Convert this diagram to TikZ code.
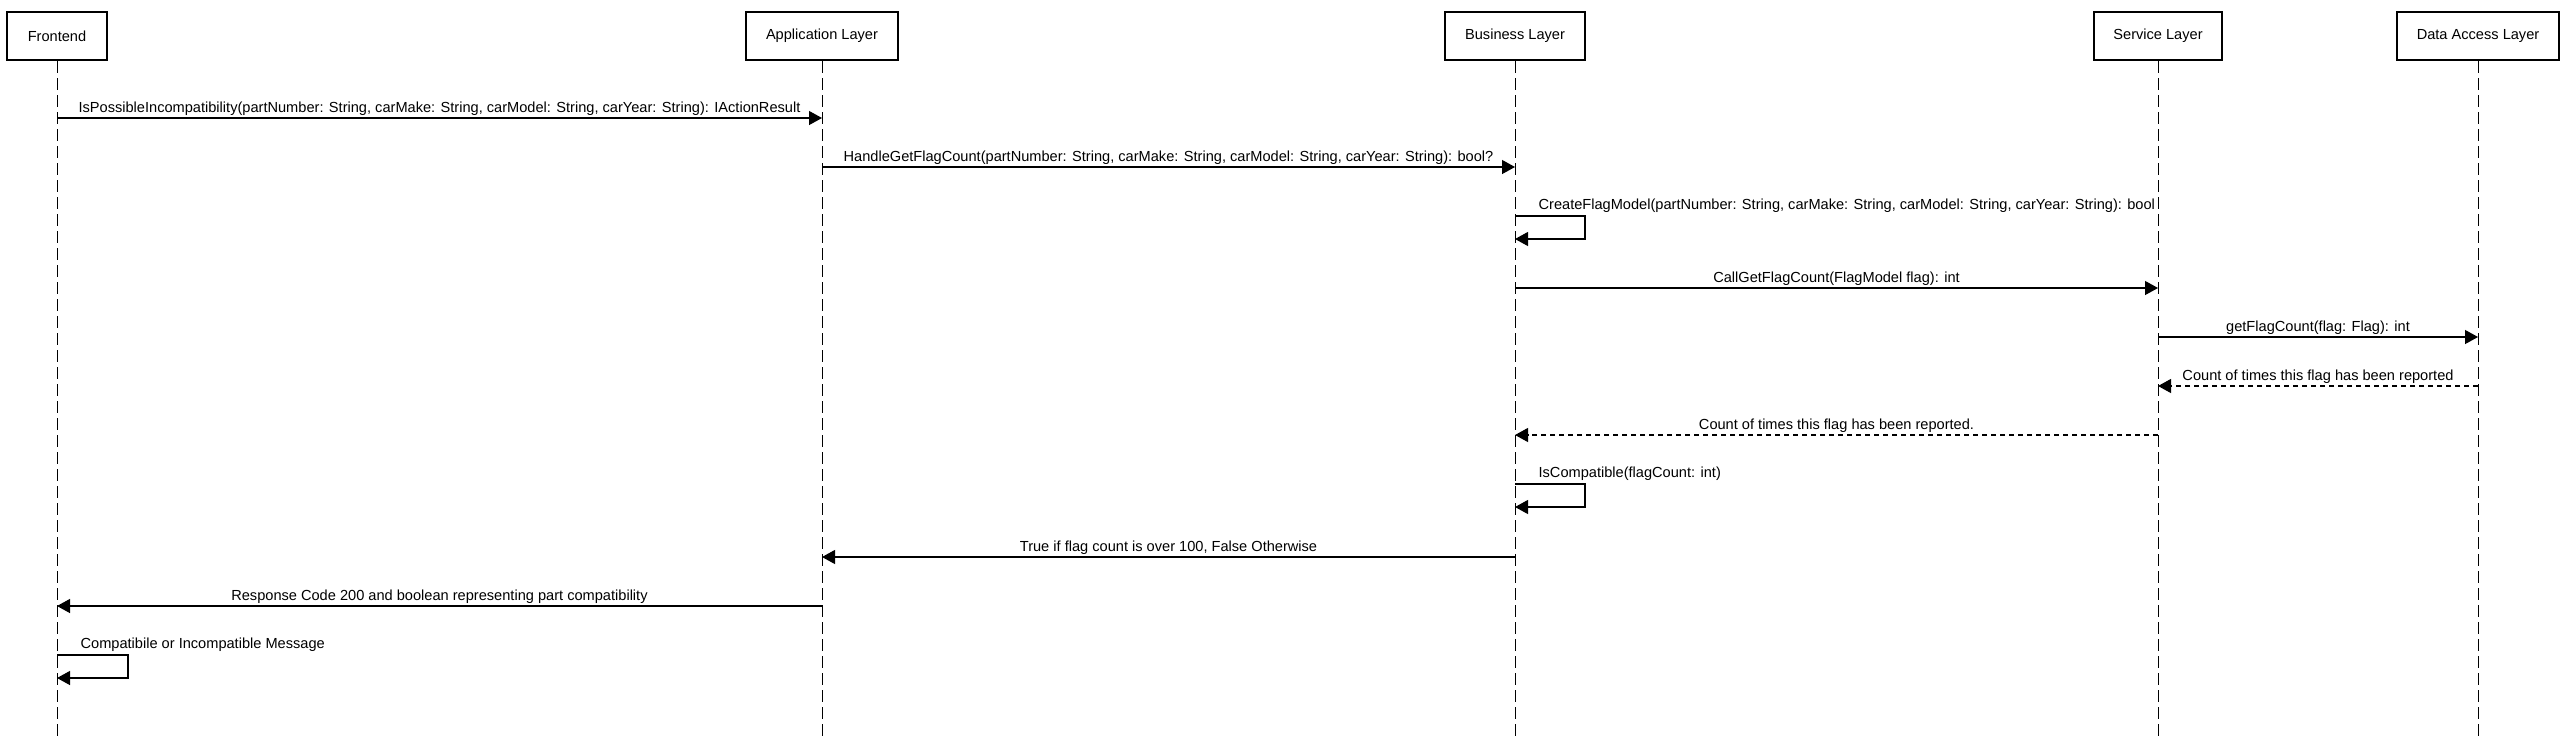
\documentclass[tikz,border=0pt]{standalone}
\usepackage{fontspec}
\setmainfont{Liberation Sans}
\usetikzlibrary{arrows.meta}

\begin{document}
\begin{tikzpicture}[x=1pt,y=-1pt,font=\fontsize{14.6}{17}\selectfont,
  actor/.style={draw,line width=2.4pt,minimum height=48pt,inner sep=0pt},
  lifeline/.style={line width=1pt,dash pattern=on 12pt off 5pt},
  msg/.style={line width=1.2pt,-{Triangle[length=13pt,width=14pt]}},
  reply/.style={msg,dash pattern=on 5pt off 4pt},
  lbl/.style={anchor=base,inner sep=0pt,yshift=6pt},
  selflbl/.style={anchor=base west,inner sep=0pt,xshift=23pt,yshift=7pt}]
\useasboundingbox (0,0) rectangle (2567,740);

\node[actor,minimum width=100pt] (fe) at (57,36) {Frontend};
\node[actor,minimum width=152pt] (app) at (822,36) {Application Layer};
\node[actor,minimum width=140pt] (bus) at (1515,36) {Business Layer};
\node[actor,minimum width=128pt] (svc) at (2158,36) {Service Layer};
\node[actor,minimum width=162pt] (dal) at (2478,36) {Data Access Layer};

\coordinate (bot) at (0,740);
\draw[lifeline] (fe) -- (fe |- bot);
\draw[lifeline] (app) -- (app |- bot);
\draw[lifeline] (bus) -- (bus |- bot);
\draw[lifeline] (svc) -- (svc |- bot);
\draw[lifeline] (dal) -- (dal |- bot);

\coordinate (m1) at (0,118);
\draw[msg] (fe |- m1) -- (app |- m1) node[lbl,midway] (l1) {IsPossibleIncompatibility(partNumber: String, carMake: String, carModel: String, carYear: String): IActionResult};
\coordinate (m2) at (0,167);
\draw[msg] (app |- m2) -- (bus |- m2) node[lbl,midway] (l2) {HandleGetFlagCount(partNumber: String, carMake: String, carModel: String, carYear: String): bool?};
\coordinate (s1) at (bus |- 0,216);
\draw[msg] (s1) node[selflbl] (l3) {CreateFlagModel(partNumber: String, carMake: String, carModel: String, carYear: String): bool} -- ++(70,0) -- ++(0,23) -- ++(-70,0);
\coordinate (m4) at (0,288);
\draw[msg] (bus |- m4) -- (svc |- m4) node[lbl,midway] (l4) {CallGetFlagCount(FlagModel flag): int};
\coordinate (m5) at (0,337);
\draw[msg] (svc |- m5) -- (dal |- m5) node[lbl,midway] (l5) {getFlagCount(flag: Flag): int};
\coordinate (m6) at (0,386);
\draw[reply] (dal |- m6) -- (svc |- m6) node[lbl,midway] (l6) {Count of times this flag has been reported};
\coordinate (m7) at (0,435);
\draw[reply] (svc |- m7) -- (bus |- m7) node[lbl,midway] (l7) {Count of times this flag has been reported.};
\coordinate (s2) at (bus |- 0,484);
\draw[msg] (s2) node[selflbl] (l8) {IsCompatible(flagCount: int)} -- ++(70,0) -- ++(0,23) -- ++(-70,0);
\coordinate (m9) at (0,557);
\draw[msg] (bus |- m9) -- (app |- m9) node[lbl,midway] (l9) {True if flag count is over 100, False Otherwise};
\coordinate (m10) at (0,606);
\draw[msg] (app |- m10) -- (fe |- m10) node[lbl,midway] (l10) {Response Code 200 and boolean representing part compatibility};
\coordinate (s3) at (fe |- 0,655);
\draw[msg] (s3) node[selflbl] (l11) {Compatibile or Incompatible Message} -- ++(71,0) -- ++(0,23) -- ++(-71,0);
\end{tikzpicture}
\end{document}
